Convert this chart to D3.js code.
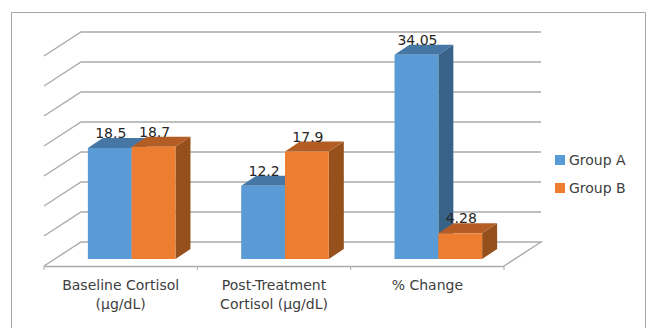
<!DOCTYPE html>
<html lang="en">
  <head>
    <meta charset="UTF-8" />
    <title>Cortisol</title>
    <style>
      html, body { margin: 0; padding: 0; background: #fff; overflow: hidden; }
      text { font-family: "DejaVu Sans", sans-serif; }
    </style>
  </head>
  <body>
    <svg id="svg" width="650" height="328"></svg>

    <script src="https://cdn.jsdelivr.net/npm/d3@7"></script>
    <script>
      const categories = ["Baseline Cortisol (µg/dL)", "Post-Treatment Cortisol (µg/dL)", "% Change"];
      const groups = ["Group A", "Group B"];
      const groupA = [18.5, 12.2, 34.05];
      const groupB = [18.7, 17.9, 4.28];

      const FLOOR_LEFT = 44;
      const FLOOR_RIGHT = 504;
      const FLOOR_FRONT = 266;
      // oblique depth of the floor, and where the bars sit inside it
      const DEPTH_X = 37;
      const DEPTH_Y = 24;
      const BAR_SHIFT_X = 11;
      const BAR_SHIFT_Y = 7;
      const BAR_DEPTH_X = 15;
      const BAR_DEPTH_Y = 10;

      const colors = {
        "Group A": { front: "#5b9bd5", top: "#4676a3", side: "#386288" },
        "Group B": { front: "#ed7d31", top: "#b35c23", side: "#95501c" },
      };

      const svg = d3.select("#svg");

      const xScale = d3.scaleBand().domain(categories).range([FLOOR_LEFT, FLOOR_RIGHT]);
      const groupScale = d3
        .scaleBand()
        .domain(groups)
        .range([0, xScale.bandwidth()])
        .paddingInner(0)
        .paddingOuter(0.75);
      // back wall value scale
      const yScale = d3.scaleLinear().domain([0, 35]).range([FLOOR_FRONT - DEPTH_Y, 32]);
      const barHeight = (v) => yScale(0) - yScale(v);

      // chart frame, open at the bottom like the source crop
      svg
        .append("path")
        .attr("d", "M11.5,328V12.5H645.5V328")
        .attr("fill", "none")
        .attr("stroke", "#a6a6a6")
        .attr("stroke-width", 1);

      // walls
      const grid = svg.append("g").attr("fill", "none").attr("stroke", "#ababab");
      yScale.ticks(7).forEach((t) => {
        const y = yScale(t);
        const line = t === 0
          ? `M${FLOOR_LEFT},${y + DEPTH_Y}L${FLOOR_LEFT + DEPTH_X},${y}H${FLOOR_RIGHT + DEPTH_X}L${FLOOR_RIGHT},${y + DEPTH_Y}`
          : `M${FLOOR_LEFT},${y + DEPTH_Y}L${FLOOR_LEFT + DEPTH_X},${y}H${FLOOR_RIGHT + DEPTH_X}`;
        grid.append("path").attr("d", line).attr("stroke-width", 1.4);
      });

      // category axis along the front of the floor
      const axis = svg
        .append("g")
        .attr("transform", `translate(0, ${FLOOR_FRONT})`)
        .call(d3.axisBottom(xScale).tickSize(0).tickPadding(15));
      axis.select(".domain").attr("stroke", "#ababab").attr("stroke-width", 1.4);
      axis
        .selectAll(".edge")
        .data(categories.map((c) => xScale(c)).concat(FLOOR_RIGHT))
        .enter()
        .append("line")
        .attr("x1", (d) => d)
        .attr("x2", (d) => d)
        .attr("y2", 4)
        .attr("stroke", "#ababab");
      axis
        .selectAll(".tick text")
        .attr("font-size", 14)
        .attr("font-family", '"DejaVu Sans", sans-serif')
        .attr("fill", "#404040")
        .each(function (label) {
          const text = d3.select(this);
          const words = label.split(" ");
          const lines = [];
          let current = [];
          text.text(null);
          const tspan = text.append("tspan");
          words.forEach((w) => {
            tspan.text(current.concat(w).join(" "));
            if (tspan.node().getComputedTextLength() > xScale.bandwidth() - 12 && current.length) {
              lines.push(current.join(" "));
              current = [w];
            } else {
              current.push(w);
            }
          });
          lines.push(current.join(" "));
          tspan.remove();
          lines.forEach((l, i) => {
            text
              .append("tspan")
              .attr("x", 0)
              .attr("y", 24 + i * 19)
              .attr("dy", 0)
              .text(l);
          });
        });

      const rows = categories.flatMap((c, i) => [
        { category: c, group: groups[0], value: groupA[i] },
        { category: c, group: groups[1], value: groupB[i] },
      ]);
      const barLeft = (d) => xScale(d.category) + groupScale(d.group) + BAR_SHIFT_X;
      const barBase = FLOOR_FRONT - BAR_SHIFT_Y;

      const bars = svg
        .append("g")
        .selectAll("g")
        .data(rows)
        .enter()
        .append("g")
        .attr("transform", (d) => `translate(${barLeft(d)}, ${barBase})`);
      const w = groupScale.bandwidth();

      bars
        .append("path")
        .attr("fill", (d) => colors[d.group].side)
        .attr("d", (d) => {
          const h = barHeight(d.value);
          return `M${w},0L${w + BAR_DEPTH_X},${-BAR_DEPTH_Y}V${-h - BAR_DEPTH_Y}L${w},${-h}Z`;
        });
      bars
        .append("path")
        .attr("fill", (d) => colors[d.group].top)
        .attr("d", (d) => {
          const h = barHeight(d.value);
          return `M0,${-h}L${BAR_DEPTH_X},${-h - BAR_DEPTH_Y}H${w + BAR_DEPTH_X}L${w},${-h}Z`;
        });
      bars
        .append("rect")
        .attr("fill", (d) => colors[d.group].front)
        .attr("y", (d) => -barHeight(d.value))
        .attr("width", w)
        .attr("height", (d) => barHeight(d.value));

      // value labels go on top of every bar
      svg
        .append("g")
        .selectAll("text")
        .data(rows)
        .enter()
        .append("text")
        .attr("x", (d) => barLeft(d) + w / 2 + 1)
        .attr("y", (d) => barBase - barHeight(d.value) - BAR_DEPTH_Y)
        .attr("text-anchor", "middle")
        .attr("font-size", 14)
        .attr("fill", "#262626")
        .text((d) => d.value);

      // legend
      const legendY = d3.scalePoint().domain(groups).range([160, 188]);
      const legend = svg
        .append("g")
        .selectAll("g")
        .data(groups)
        .enter()
        .append("g")
        .attr("transform", (d) => `translate(555, ${legendY(d)})`);
      legend
        .append("rect")
        .attr("y", -5)
        .attr("width", 10)
        .attr("height", 10)
        .attr("fill", (d) => colors[d].front);
      legend
        .append("text")
        .attr("x", 14)
        .attr("y", 5)
        .attr("font-size", 14)
        .attr("fill", "#404040")
        .text((d) => d);
    </script>
  </body>
</html>
